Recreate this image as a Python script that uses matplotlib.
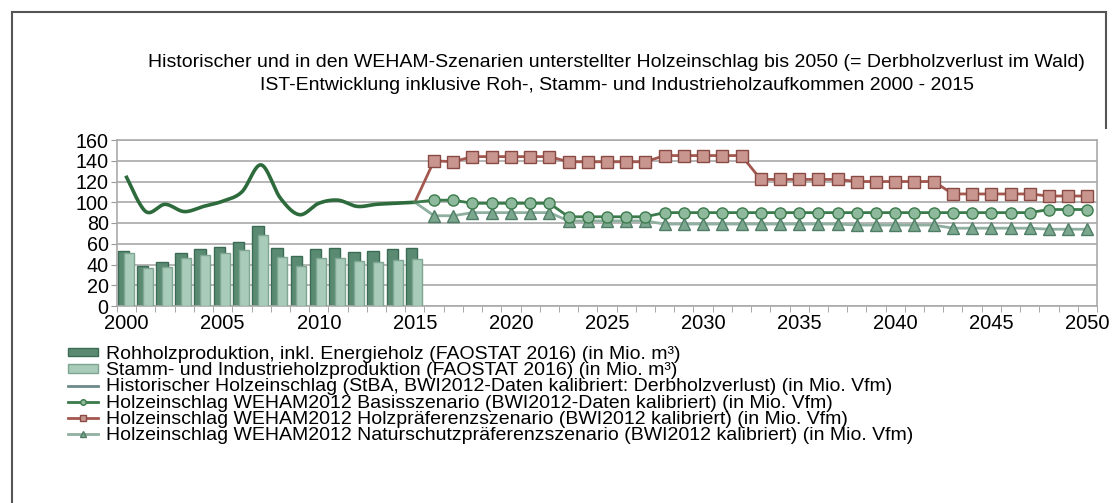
import numpy as np
import matplotlib
matplotlib.use("Agg")
import matplotlib.pyplot as plt
from matplotlib.patches import Patch
from matplotlib.lines import Line2D

plt.rcParams['font.family'] = ['Liberation Sans', 'DejaVu Sans']

# data
years = list(range(2000, 2051))
bar_years = list(range(2000, 2016))
rohholz = [53, 39, 42, 51, 55, 57, 62, 77, 56, 48, 55, 56, 52, 53, 55, 56]
stamm_industrie = [51, 37, 38, 46, 49, 51, 54, 68, 47, 39, 46, 46, 43, 42, 44, 45]
hist_einschlag = [124, 91, 98, 91, 96, 101, 110, 136, 104, 88, 99, 102, 96, 98, 99, 100]

scen_years = list(range(2015, 2051))
basis = [100, 102, 102, 99, 99, 99, 99, 99,
         86, 86, 86, 86, 86,
         90, 90, 90, 90, 90, 90, 90, 90, 90, 90, 90, 90, 90, 90, 90, 90, 90, 90, 90, 90,
         93, 93, 93]
holzpraef = [100, 140, 139, 144, 144, 144, 144, 144,
             139, 139, 139, 139, 139,
             145, 145, 145, 145, 145,
             122, 122, 122, 122, 122,
             120, 120, 120, 120, 120,
             108, 108, 108, 108, 108,
             106, 106, 106]
naturschutz = [100, 87, 87, 90, 90, 90, 90, 90,
               82, 82, 82, 82, 82,
               79, 79, 79, 79, 79, 79, 79, 79, 79, 79,
               78, 78, 78, 78, 78,
               75, 75, 75, 75, 75,
               74, 74, 74]

title = ("Historischer und in den WEHAM-Szenarien unterstellter Holzeinschlag bis 2050 (= Derbholzverlust im Wald)\n"
         "IST-Entwicklung inklusive Roh-, Stamm- und Industrieholzaufkommen 2000 - 2015")
labels = ["Rohholzproduktion, inkl. Energieholz (FAOSTAT 2016) (in Mio. m³)",
          "Stamm- und Industrieholzproduktion (FAOSTAT 2016) (in Mio. m³)",
          "Historischer Holzeinschlag (StBA, BWI2012-Daten kalibriert: Derbholzverlust) (in Mio. Vfm)",
          "Holzeinschlag WEHAM2012 Basisszenario (BWI2012-Daten kalibriert) (in Mio. Vfm)",
          "Holzeinschlag WEHAM2012 Holzpräferenzszenario (BWI2012 kalibriert) (in Mio. Vfm)",
          "Holzeinschlag WEHAM2012 Naturschutzpräferenzszenario (BWI2012 kalibriert) (in Mio. Vfm)"]


def smooth(xs, ys, n=20):
    # catmull-rom through the points, like excel's smoothed line
    pts = np.column_stack([xs, ys]).astype(float)
    p = np.vstack([pts[0], pts, pts[-1]])
    out = []
    t = np.linspace(0, 1, n, endpoint=False)[:, None]
    for i in range(1, len(p) - 2):
        p0, p1, p2, p3 = p[i - 1], p[i], p[i + 1], p[i + 2]
        seg = 0.5 * ((2 * p1) + (-p0 + p2) * t + (2 * p0 - 5 * p1 + 4 * p2 - p3) * t ** 2
                     + (-p0 + 3 * p1 - 3 * p2 + p3) * t ** 3)
        out.append(seg)
    out.append(pts[-1][None])
    s = np.vstack(out)
    return s[:, 0], s[:, 1]


W, H = 1119, 503
fig = plt.figure(figsize=(W / 100, H / 100), dpi=100)
ax = fig.add_axes([117 / W, 1 - 306 / H, (1097 - 117) / W, (306 - 140) / H])

bx = np.array(bar_years) - 2000
sx = np.array(scen_years) - 2000

ax.bar(bx - 0.17, rohholz, width=0.6, color="#5a8b72", edgecolor="#3b6b55", lw=1, zorder=2)
ax.bar(bx + 0.10, stamm_industrie, width=0.52, color="#a9cbb9", edgecolor="#7ea692", lw=1, zorder=3)

hx, hy = smooth(bx, hist_einschlag)
ax.plot(hx, hy, color="#2d6b3c", lw=2.6, zorder=4)

ax.plot(sx, holzpraef, color="#a3574e", lw=2, marker="s", ms=8, mfc="#c9958f", mec="#8a4a44", mew=1, zorder=5)
ax.plot(sx, naturschutz, color="#8fb0a0", lw=2, marker="^", ms=8, mfc="#7aa78e", mec="#4f7d66", mew=1, zorder=5)
ax.plot(sx, basis, color="#3a7a4b", lw=2, marker="o", ms=8, mfc="#8fb99c", mec="#3a7a4b", mew=1, zorder=6)
# no markers at the 2015 joint
for ln in ax.lines[1:]:
    ln.set_markevery(list(range(1, len(scen_years))))

ax.set_xlim(-0.5, 50.5)
ax.set_ylim(0, 160)
ax.set_yticks(range(0, 161, 20))
ax.set_xticks([y - 2000 for y in years if y % 5 == 0])
ax.set_xticklabels([str(y) for y in years if y % 5 == 0])
ax.set_xticks(np.arange(-0.5, 51, 1), minor=True)
ax.tick_params(axis="x", which="major", length=0, labelsize=14.5, pad=6)
ax.tick_params(axis="x", which="minor", length=4, color="#999999")
ax.tick_params(axis="y", length=4, color="#999999", labelsize=14.2, pad=2)
ax.grid(axis="y", color="#b5b5b5", lw=1.4, zorder=0)
ax.set_axisbelow(True)
for sp in ax.spines.values():
    sp.set_color("#aaaaaa")
    sp.set_linewidth(1.2)

fig.text(0.551, 1 - 74 / H, title, ha="center", va="center", fontsize=14, linespacing=1.48)

handles = [Patch(facecolor="#5a8b72", edgecolor="#3b6b55"),
           Patch(facecolor="#a9cbb9", edgecolor="#7ea692"),
           Line2D([], [], color="#6d8a8a", lw=2),
           Line2D([], [], color="#3a7a4b", lw=2, marker="o", ms=4, mfc="#8fb99c", mec="#3a7a4b"),
           Line2D([], [], color="#a3574e", lw=2, marker="s", ms=4, mfc="#c9958f", mec="#8a4a44"),
           Line2D([], [], color="#8fb0a0", lw=2, marker="^", ms=4, mfc="#7aa78e", mec="#4f7d66")]
fig.legend(handles, labels, loc="upper left", bbox_to_anchor=(68 / W, 1 - 346 / H),
           frameon=False, fontsize=14, handlelength=1.55, handleheight=0.3,
           handletextpad=0.4, labelspacing=-0.04, borderpad=0, borderaxespad=0)

# outer frame (right side is covered by the chart image below the title)
fig.add_artist(Line2D([12 / W, 12 / W], [0, 1 - 12 / H], color="#555555", lw=1.5))
fig.add_artist(Line2D([12 / W, 1106 / W], [1 - 12 / H, 1 - 12 / H], color="#555555", lw=1.5))
fig.add_artist(Line2D([1106 / W, 1106 / W], [1 - 12 / H, 1 - 128 / H], color="#555555", lw=1.5))

fig.savefig("out.png", dpi=100)
